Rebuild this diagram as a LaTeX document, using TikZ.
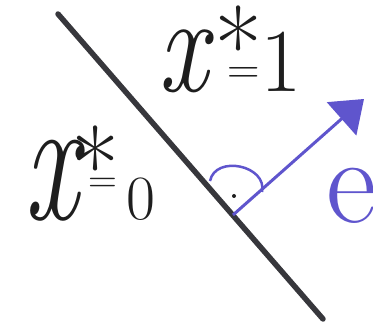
\documentclass[tikz,border=0pt]{standalone}
\usetikzlibrary{arrows.meta}
\usepackage{graphicx}
\definecolor{pen}{RGB}{55,55,60}
\definecolor{txt}{RGB}{30,30,30}
\definecolor{ink}{RGB}{95,85,205}
\begin{document}
\begin{tikzpicture}[x=1pt,y=-1pt,
  penline/.style={draw=pen,line width=5.5pt,line cap=round},
  vecline/.style={draw=ink,line width=3pt,-{Triangle[length=30pt,width=44pt]}},
  anglemark/.style={draw=ink,line width=2.5pt},
  dotnode/.style={circle,fill=txt,inner sep=0pt,minimum size=4pt},
  lbl/.style={anchor=base west,inner sep=0pt,text=txt}
]
\useasboundingbox (0,0) rectangle (373,326);
\coordinate (A) at (58,14);
\coordinate (B) at (323,319);
\draw[penline] (A) -- (B);
\coordinate (F) at (233,215);
\coordinate (T) at (364,99);
\draw[vecline] (F) -- (T);
\coordinate (P1) at (210,181);
\coordinate (P2) at (262,192);
\draw[anglemark] (P1) .. controls (215.6,154.5) and (267.6,165.5) .. (P2);
\node[dotnode] (dot) at (234,196) {};
\node[lbl] (one) at (158,92) {\scalebox{1.1}[1.4]{\fontsize{100}{100}\selectfont\itshape x}\kern7pt\rlap{\raisebox{7pt}{\fontsize{105}{105}\selectfont *}}\kern13pt\raisebox{8pt}{\fontsize{45}{45}\selectfont =}{\fontsize{90}{90}\selectfont 1}};
\node[lbl] (zero) at (24,220) {\scalebox{1.2}[1.8]{\fontsize{100}{100}\selectfont\itshape x}\kern-7pt\rlap{\raisebox{15pt}{\fontsize{105}{105}\selectfont *}}\kern17pt\raisebox{27pt}{\fontsize{40}{40}\selectfont =}\kern10pt{\fontsize{63}{63}\selectfont 0}};
\node[lbl,text=ink] (e) at (326,223) {\fontsize{123}{123}\selectfont e};
\end{tikzpicture}
\end{document}
